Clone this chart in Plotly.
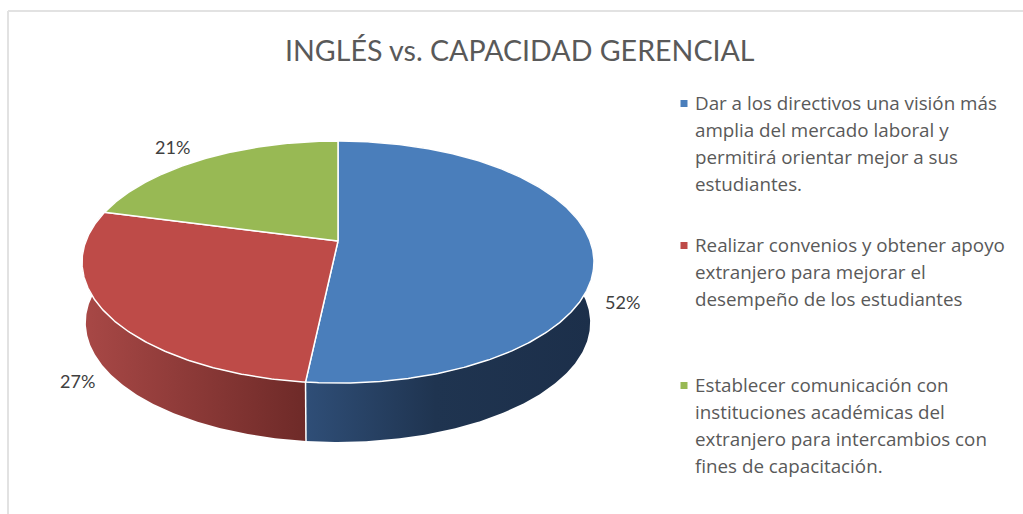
import math
import plotly.graph_objects as go

TITLE = "INGLÉS vs. CAPACIDAD GERENCIAL"
VALUES = [51.7, 27.4, 20.9]
TOP_COLORS = ['#4a7ebb', '#be4b48', '#98b954']
LEGEND_LINES = [
    ["Dar a los directivos una visión más", "amplia del mercado laboral y",
     "permitirá orientar mejor a sus", "estudiantes."],
    ["Realizar convenios y obtener apoyo", "extranjero para mejorar el",
     "desempeño de los estudiantes"],
    ["Establecer comunicación con", "instituciones académicas del",
     "extranjero para intercambios con", "fines de capacitación."],
]

# page is used as pixel space, pie geometry is a perspective view of a circle
W, H = 1023, 514
CX, CY = 338, 241
RX, RY = 252.1, 117.4
PERSP = 0.1736
DEPTH = 61
BOTTOM_SCALE = 0.985

WALL_GRADIENTS = [
    dict(type='horizontal', start=306, stop=594,
         colorscale=[[0, '#2f4e77'], [0.45, '#1f3450'], [1, '#1c2f4a']]),
    dict(type='horizontal', start=84, stop=306,
         colorscale=[[0, '#a84846'], [1, '#6e2a28']]),
    dict(type='horizontal', start=100, stop=338,
         colorscale=[[0, '#7a9440'], [1, '#5c7030']]),
]
LABEL_POS = [(622, 302), (77, 381), (172, 147)]
LEGEND_X = 693
LEGEND_Y = [103, 245, 385]
LINE_STEP = 26.9
TEXT_COLOR = '#595959'
FONT = 'Lato'
LEGEND_FONT = 'Open Sans'


def project(deg, scale=1.0, drop=0):
    t = math.radians(deg)
    d = 1 + PERSP * math.cos(t)
    x = CX + scale * RX * math.sin(t) / d
    y = CY + drop - scale * RY * math.cos(t) / d
    return x, y


def arc(a0, a1, scale=1.0, drop=0):
    n = max(2, int(abs(a1 - a0) * 2))
    return [project(a0 + (a1 - a0) * i / n, scale, drop) for i in range(n + 1)]


total = sum(VALUES)
edges = [0]
for v in VALUES:
    edges.append(edges[-1] + v / total * 360)

fig = go.Figure()

# side walls first, the top face covers whatever is at the back
for i, v in enumerate(VALUES):
    top = arc(edges[i], edges[i + 1])
    bottom = arc(edges[i + 1], edges[i], BOTTOM_SCALE, DEPTH)
    pts = top + bottom + [top[0]]
    fig.add_trace(go.Scatter(
        x=[p[0] for p in pts], y=[p[1] for p in pts],
        mode='lines', line=dict(width=0),
        fill='toself', fillgradient=WALL_GRADIENTS[i],
        hoverinfo='skip', showlegend=False
    ))

# seams on the front of the pie
for e in edges[1:-1]:
    if math.cos(math.radians(e)) < 0:
        a = project(e)
        b = project(e, BOTTOM_SCALE, DEPTH)
        fig.add_trace(go.Scatter(
            x=[a[0], b[0]], y=[a[1], b[1]], mode='lines',
            line=dict(color='white', width=1.5),
            hoverinfo='skip', showlegend=False
        ))

for i, v in enumerate(VALUES):
    pts = [project(0, 0)] + arc(edges[i], edges[i + 1]) + [project(0, 0)]
    fig.add_trace(go.Scatter(
        x=[p[0] for p in pts], y=[p[1] for p in pts],
        mode='lines', line=dict(color='white', width=1.5),
        fill='toself', fillcolor=TOP_COLORS[i],
        name=LEGEND_LINES[i][0], hovertemplate=f'{round(v)}%<extra></extra>',
        showlegend=False
    ))

# legend keys
fig.add_trace(go.Scatter(
    x=[684] * 3, y=[y + 0.5 for y in LEGEND_Y],
    mode='markers', marker=dict(symbol='square', size=7, color=TOP_COLORS),
    hoverinfo='skip', showlegend=False
))

annotations = []
annotations.append(dict(text=TITLE, x=520, y=50, font=dict(size=28.6, color=TEXT_COLOR, family=FONT)))
for v, (x, y) in zip(VALUES, LABEL_POS):
    annotations.append(dict(text=f'{round(v)}%', x=x, y=y, font=dict(size=18, color='#404040', family=FONT)))
for lines, y0 in zip(LEGEND_LINES, LEGEND_Y):
    for j, line in enumerate(lines):
        annotations.append(dict(
            text=line, x=LEGEND_X, y=y0 + j * LINE_STEP, xanchor='left',
            font=dict(size=18.8, color=TEXT_COLOR, family=LEGEND_FONT)
        ))
for a in annotations:
    a.update(xref='x', yref='y', showarrow=False)

fig.update_layout(
    width=W, height=H,
    margin=dict(l=0, r=0, t=0, b=0),
    paper_bgcolor='white', plot_bgcolor='white',
    xaxis=dict(range=[0, W], visible=False, fixedrange=True),
    yaxis=dict(range=[H, 0], visible=False, fixedrange=True),
    annotations=annotations,
    shapes=[
        dict(type='line', x0=8, x1=W, y0=11, y1=11, line=dict(color='#e2e2e2', width=2)),
        dict(type='line', x0=8, x1=8, y0=11, y1=H, line=dict(color='#e2e2e2', width=2)),
    ]
)

fig.write_html("out.html", config=dict(displayModeBar=False),
               post_script="document.body.style.margin='0';document.body.style.overflow='hidden';")
